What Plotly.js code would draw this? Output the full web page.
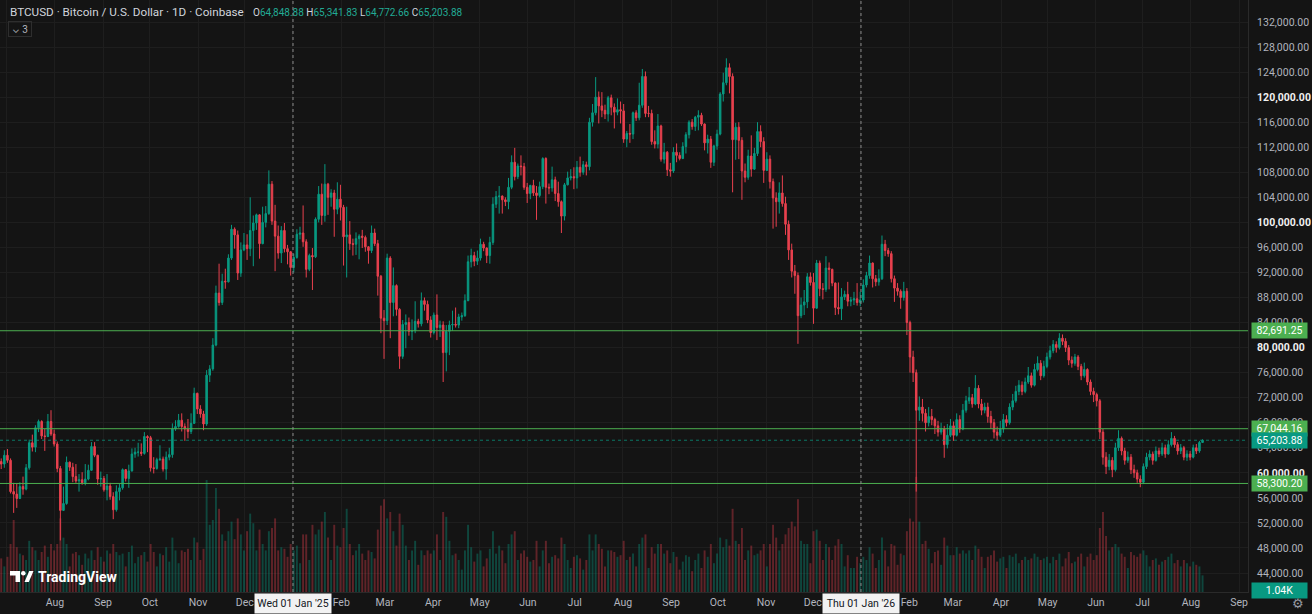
<!DOCTYPE html>
<html><head><meta charset="utf-8">
<script src="https://cdn.plot.ly/plotly-3.0.1.min.js"></script>
<style>html,body{margin:0;padding:0;background:#141414;}#chart{width:1312px;height:614px;}</style>
</head><body><div id="chart"></div>
<script>
// ---- DATA (prices in thousands USD, volume in K) : 2-day candles starting 2024-06-27 ----
const startDate = '2024-06-27';
const firstOpen = 61.8;
const close = [
61.4,62.8,62.0,57.0,56.6,55.9,57.8,57.4,60.8,64.8,
64.1,67.2,68.2,65.9,65.8,68.2,66.2,64.6,60.7,54.0,
55.1,61.7,60.9,59.4,58.7,58.9,58.4,59.0,60.4,64.2,
62.8,59.0,59.1,57.3,57.9,56.2,54.1,57.0,57.6,60.5,
59.1,60.3,63.0,63.3,63.3,63.1,65.8,65.6,60.8,60.7,
62.1,62.2,60.6,62.5,62.9,67.0,67.4,68.4,67.4,67.0,
66.6,67.9,72.7,70.2,69.4,67.8,75.6,76.6,80.4,88.7,
87.2,90.6,90.5,94.3,98.9,98.0,91.9,95.6,96.4,95.8,
98.7,99.9,101.2,96.6,100.0,101.4,106.1,100.2,97.8,95.1,
98.7,95.8,95.3,92.8,
94.4,98.1,98.3,96.9,92.5,94.7,94.5,100.5,104.5,101.1,
106.1,104.0,104.7,102.1,103.7,102.4,97.7,98.0,96.6,96.5,
97.4,97.8,97.6,96.1,95.5,98.3,96.6,91.4,84.7,84.3,
94.3,87.2,89.9,86.1,78.6,83.7,84.0,82.6,82.7,84.2,
83.8,87.5,86.9,84.4,82.4,85.2,83.2,83.6,79.2,82.6,
83.6,83.7,83.6,84.9,85.1,87.5,93.7,94.7,93.8,94.3,
96.5,95.9,94.7,96.8,102.9,104.1,104.2,103.6,103.3,105.6,
109.6,107.3,109.0,108.9,105.6,104.6,105.9,104.7,104.3,105.7,
110.2,105.6,105.5,106.8,104.6,103.3,101.0,106.0,107.1,107.3,
107.1,108.8,108.0,109.2,108.9,116.0,117.5,120.0,118.6,117.9,
117.3,119.9,118.4,117.6,118.0,117.8,113.3,114.2,114.1,117.5,
116.7,118.7,123.3,117.4,117.4,112.9,112.5,115.4,110.1,111.2,
108.4,108.2,111.2,110.7,110.2,112.1,114.0,116.0,115.3,116.8,
117.1,115.7,112.7,113.3,109.6,112.2,114.1,120.5,122.3,124.7,
123.3,113.2,115.2,113.1,108.2,107.2,110.6,108.5,111.0,114.5,
112.9,108.3,110.1,106.5,103.9,103.3,104.7,103.0,99.7,95.6,
92.2,91.5,85.1,86.8,87.3,91.3,90.4,86.3,93.5,89.4,
89.3,92.7,92.5,90.3,86.4,86.2,88.1,88.5,87.4,87.6,
87.8,87.2,87.6,
90.0,91.5,93.5,91.0,90.5,91.0,96.5,95.5,95.0,91.0,
89.5,89.0,88.0,89.0,84.0,78.5,76.0,70.0,70.5,69.5,
68.0,69.0,68.5,67.5,66.5,67.0,64.5,66.0,67.5,66.0,
68.5,67.0,70.0,71.5,72.0,71.0,73.5,71.0,70.0,70.5,
69.0,68.0,66.5,66.0,67.0,68.5,68.0,70.5,71.5,73.0,
74.0,73.0,74.5,75.5,74.0,76.5,77.5,75.5,77.0,78.5,
79.5,80.5,80.0,81.5,81.0,80.0,78.0,77.5,78.5,77.0,
75.5,76.5,74.5,73.0,72.5,71.5,66.5,62.5,61.0,62.0,
60.5,64.0,65.5,63.5,62.0,62.5,60.5,60.0,59.0,58.5,
61.0,62.5,63.0,62.0,63.5,63.0,64.0,63.0,64.5,65.5,
64.5,63.5,64.0,62.5,63.0,62.5,64.0,63.5,64.849,65.204
];
const high = [
62.3,63.6,63.8,62.3,58.4,58.3,58.5,59.4,61.4,65.3,
66.1,67.6,68.5,68.4,67.0,69.4,70.0,66.9,65.0,61.1,
57.8,62.6,61.8,61.6,61.4,59.8,60.1,61.4,61.3,64.9,
64.9,62.9,60.2,59.5,59.8,58.4,56.9,58.0,58.2,60.7,
60.6,61.3,63.9,64.0,64.8,64.7,66.5,66.0,65.9,62.5,
62.4,64.4,62.6,63.4,64.0,67.9,68.4,69.4,69.5,67.9,
68.6,69.5,73.6,72.8,70.8,69.9,76.4,77.2,81.5,89.9,
93.4,91.8,92.6,94.9,99.6,99.2,98.7,96.8,98.3,98.1,
104.0,101.1,101.4,101.3,102.5,102.6,108.3,106.6,102.8,99.5,
99.4,99.9,96.4,95.4,
95.0,98.9,99.3,102.7,97.3,95.0,95.9,100.8,105.8,106.2,
109.3,106.3,105.3,105.2,106.4,106.0,102.8,102.5,100.2,97.4,
98.4,98.1,98.8,97.9,96.2,99.5,99.0,97.2,91.6,86.0,
95.0,94.6,92.8,90.1,86.3,84.4,85.3,84.8,84.5,87.4,
84.6,88.8,88.0,87.5,85.0,85.6,88.5,84.3,84.2,83.6,
84.3,85.9,86.4,85.4,85.6,88.5,94.7,95.8,95.3,95.5,
97.4,96.9,96.0,97.7,104.0,105.0,105.8,104.3,104.0,107.1,
110.7,111.9,109.4,110.7,109.5,106.3,106.0,106.8,105.8,106.5,
110.4,110.4,106.2,108.9,107.3,106.5,103.5,106.3,108.1,108.5,
108.8,109.8,110.5,109.8,109.7,116.7,118.9,123.2,120.9,120.8,
118.8,120.2,120.4,119.0,119.8,119.3,118.9,114.6,115.7,117.7,
117.9,122.3,124.5,124.1,118.6,118.0,114.7,117.3,115.6,112.7,
111.4,109.5,112.0,112.6,111.2,112.8,114.4,116.3,116.5,117.0,
117.9,117.5,115.8,114.0,113.8,112.4,114.8,120.8,123.9,126.2,
125.4,123.8,115.9,116.0,113.6,109.4,111.6,113.9,111.9,116.0,
115.5,113.6,111.2,110.7,107.0,104.8,106.4,107.5,104.1,100.3,
96.6,93.2,92.0,88.0,89.2,91.9,92.0,91.9,94.0,93.9,
90.3,94.6,93.6,92.6,90.4,90.4,89.5,89.1,90.5,88.1,
88.9,90.3,88.9,
90.9,92.1,94.7,93.6,91.6,92.5,97.9,97.2,95.9,95.4,
91.5,90.3,89.3,90.5,89.5,84.3,79.5,76.5,72.2,71.8,
70.2,70.5,70.2,68.8,68.3,68.0,67.5,67.8,68.6,68.2,
69.5,69.2,71.0,72.3,73.7,72.6,75.6,74.0,71.8,71.2,
71.2,69.9,68.6,67.4,68.3,69.4,69.2,71.1,72.6,73.9,
74.8,74.6,75.2,76.9,76.0,77.4,78.6,78.0,77.9,79.2,
80.3,81.2,81.0,82.3,82.1,81.5,80.4,78.6,79.0,78.8,
77.4,77.6,76.7,74.9,73.6,72.8,71.8,67.0,63.3,63.0,
62.5,64.8,66.8,65.8,64.0,63.4,63.0,61.3,60.5,59.6,
61.5,63.2,63.6,63.4,64.2,64.0,64.8,64.5,65.2,66.5,
65.9,64.9,64.6,64.3,63.6,63.5,64.5,64.6,65.1,65.342
];
const low = [
60.6,60.8,61.6,56.7,53.6,54.4,55.8,56.5,57.2,60.5,
63.4,63.3,66.5,65.4,63.5,65.7,65.9,64.2,60.1,49.2,
53.9,54.9,60.3,58.5,58.4,57.0,58.1,58.0,58.8,60.3,
62.5,58.1,57.8,57.0,55.6,55.7,52.6,53.8,55.6,57.3,
58.6,57.6,60.2,62.4,62.6,62.7,62.9,63.3,60.2,59.9,
60.5,61.9,60.2,58.9,62.0,62.4,66.7,67.2,66.6,65.1,
65.5,66.2,67.8,69.4,68.8,66.8,67.5,74.5,76.3,80.2,
86.7,86.8,89.4,90.4,94.0,95.8,90.8,91.3,95.4,94.0,
94.6,93.0,98.8,94.2,96.5,99.2,101.2,99.6,92.2,94.2,
93.5,95.2,93.3,91.5,
92.0,94.2,97.3,96.1,91.2,92.2,89.2,94.3,100.0,99.6,
100.1,101.2,102.5,97.7,101.3,100.3,93.1,91.2,95.6,94.7,
94.8,94.1,95.9,95.3,93.4,95.1,96.2,88.3,82.3,78.2,
83.6,81.5,85.0,85.1,76.6,78.2,79.9,81.9,81.2,82.3,
83.2,83.4,85.9,83.9,81.6,82.1,81.2,81.7,74.5,76.2,
78.8,82.7,83.2,83.1,84.3,84.9,87.4,92.8,93.0,93.2,
93.9,95.4,93.5,93.4,96.4,102.3,101.4,101.4,102.6,102.1,
105.3,106.7,106.9,107.5,105.2,103.1,103.7,104.2,100.4,104.0,
105.3,103.0,104.5,104.9,103.4,102.5,98.3,100.3,105.9,106.7,
105.3,105.4,107.3,107.6,107.5,108.3,115.3,117.1,115.8,116.8,
116.5,116.1,117.1,115.0,117.1,115.8,112.7,112.0,112.7,113.3,
116.2,116.3,118.3,116.8,116.8,112.4,111.8,111.8,109.7,109.4,
107.4,107.3,107.9,109.6,109.9,110.1,111.0,113.4,114.8,114.6,
114.7,115.4,111.5,111.0,108.7,109.0,111.6,113.9,119.3,121.9,
120.6,104.8,110.0,110.1,103.6,106.4,106.8,107.3,108.4,110.6,
112.0,106.3,108.2,105.4,99.0,99.3,101.4,102.5,98.0,94.0,
91.2,88.6,80.6,84.7,85.2,86.3,89.9,83.8,86.2,88.2,
87.7,88.9,89.3,89.8,85.2,85.3,84.4,87.6,86.6,86.6,
86.8,86.7,86.6,
87.2,89.6,91.0,89.6,89.8,89.9,90.8,94.6,94.5,90.4,
87.3,88.3,86.2,87.5,82.0,76.0,74.5,57.0,68.3,68.2,
66.6,67.4,67.6,66.2,65.8,66.1,62.4,63.9,65.7,65.1,
65.8,66.4,66.8,69.6,71.0,70.4,70.8,70.3,69.2,69.5,
68.0,67.0,65.5,65.2,65.7,66.4,67.4,67.7,70.0,71.2,
72.4,72.4,72.7,74.2,73.6,73.8,76.2,74.8,75.2,76.7,
78.1,79.1,79.2,79.7,80.4,79.3,77.2,76.8,77.1,76.4,
74.8,75.2,74.0,72.4,71.3,70.6,65.4,61.3,59.8,60.4,
59.3,60.2,63.5,62.8,61.3,61.6,59.8,59.2,58.4,57.7,
58.2,60.6,62.0,61.3,61.8,62.5,62.7,62.4,62.9,64.2,
64.0,62.9,63.0,62.0,61.9,62.0,62.3,63.0,63.2,64.773
];
const volume = [
2.1,1.6,2.2,3.0,4.5,2.8,2.4,2.3,2.0,3.2,
2.8,2.6,2.0,2.5,2.9,2.2,3.0,2.6,3.0,4.6,
3.4,3.0,1.6,2.4,2.5,2.3,1.7,2.4,2.1,2.6,
2.0,2.8,2.2,1.9,2.6,2.4,3.0,2.5,2.3,2.4,
1.6,2.5,2.9,1.8,2.2,2.3,2.5,1.9,3.0,2.5,
1.6,2.4,2.3,2.8,1.9,3.4,2.6,1.8,2.6,2.5,
2.7,2.0,3.4,3.1,2.0,2.7,7.0,4.2,4.5,6.5,
5.2,3.6,3.2,3.8,4.4,3.3,4.6,3.6,2.6,3.8,
4.9,4.3,2.6,3.9,3.0,2.6,3.8,4.0,4.6,2.6,
2.8,2.7,2.2,3.0,
2.6,2.9,1.8,3.6,3.6,2.0,4.2,3.6,3.9,4.4,
5.0,3.4,2.0,4.2,2.9,2.8,4.0,5.2,3.0,2.3,
2.6,3.0,2.4,2.0,2.6,2.5,2.1,3.9,5.4,5.8,
4.6,5.0,3.8,2.9,4.9,4.2,2.9,2.0,2.6,3.2,
1.7,2.6,2.3,2.6,2.4,2.6,3.6,2.0,5.0,4.7,
3.2,2.3,2.4,2.0,1.4,2.6,4.2,2.8,1.9,2.4,
2.6,1.6,2.1,2.7,3.8,2.4,2.9,2.6,1.8,3.0,
3.6,3.8,2.0,2.4,2.6,2.2,1.9,2.0,3.2,1.6,
2.6,3.2,1.8,2.2,2.3,2.1,3.4,3.0,2.0,1.5,
2.2,2.3,2.1,1.4,2.0,3.6,2.6,3.6,3.0,2.7,
1.6,2.6,2.6,2.5,2.2,2.3,3.2,2.0,2.2,2.4,
1.6,3.0,3.4,3.6,1.5,2.8,2.4,3.0,3.0,2.4,
2.6,1.8,2.5,2.2,1.4,1.9,2.3,2.2,1.3,2.0,
2.4,1.5,2.6,2.2,3.0,1.8,2.4,3.4,2.8,3.3,
2.9,5.2,3.2,3.0,4.0,2.0,2.6,2.9,2.3,2.4,
2.6,3.0,1.6,3.0,4.2,3.4,2.6,3.0,3.6,4.0,
4.4,4.1,5.8,3.2,3.0,3.0,1.8,3.8,3.9,3.2,
2.0,3.0,2.8,2.0,2.9,3.3,3.0,1.6,2.3,1.5,
1.5,2.2,1.8,
2.2,2.0,2.8,2.4,1.5,2.0,3.4,2.6,1.6,3.0,
2.9,1.7,2.4,2.3,3.8,4.6,4.4,7.2,4.4,3.0,
3.2,2.7,1.8,2.5,2.6,1.7,3.4,2.9,2.3,2.3,
2.8,2.4,2.6,2.4,2.6,2.0,2.9,2.7,2.2,1.5,
2.2,2.3,2.6,1.9,2.1,2.2,1.5,2.3,2.2,2.4,
1.8,2.0,2.2,2.0,2.1,2.4,2.2,2.0,2.1,2.2,
1.8,2.2,2.0,2.4,1.6,2.1,2.5,1.8,1.9,2.2,
2.4,1.6,2.2,2.4,2.0,2.3,4.0,5.0,3.5,2.6,
2.8,3.0,2.8,2.4,2.2,1.5,2.5,2.3,2.2,2.4,
2.6,2.3,1.6,2.0,2.1,1.7,1.9,2.0,2.2,2.4,
1.8,2.0,1.6,2.0,1.8,1.6,1.9,1.7,1.6,1.04
];
const levels = [82691.25, 67044.16, 58300.20];
const lastPrice = 65203.88;
const lastVolumeText = '1.04K';
const headerTitle = 'BTCUSD · Bitcoin / U.S. Dollar · 1D · Coinbase';
const ohlcLabels = ['O','H','L','C'];
const ohlcValues = ['64,848.88','65,341.83','64,772.66','65,203.88'];
const priceTicks = [44000,48000,52000,56000,60000,64000,68000,72000,76000,80000,84000,88000,92000,96000,100000,104000,108000,112000,116000,120000,124000,128000,132000];
const monthTicks = ['2024-07-01','2024-08-01','2024-09-01','2024-10-01','2024-11-01','2024-12-01','2025-01-01','2025-02-01','2025-03-01','2025-04-01','2025-05-01','2025-06-01','2025-07-01','2025-08-01','2025-09-01','2025-10-01','2025-11-01','2025-12-01','2026-01-01','2026-02-01','2026-03-01','2026-04-01','2026-05-01','2026-06-01','2026-07-01','2026-08-01','2026-09-01'];
const monthLabels = ['Jul','Aug','Sep','Oct','Nov','Dec','','Feb','Mar','Apr','May','Jun','Jul','Aug','Sep','Oct','Nov','Dec','','Feb','Mar','Apr','May','Jun','Jul','Aug','Sep'];
const yearMarks = ['2025-01-01','2026-01-01'];
const yearMarkLabels = ["Wed 01 Jan '25", "Thu 01 Jan '26"];

// ---- BUILD ----
const UP = '#089981', DOWN = '#e8404e';
const DAY = 86400000;
const t0 = Date.parse(startDate + 'T00:00:00Z');
const dates = close.map((_, i) => new Date(t0 + i * 2 * DAY + 12 * 3600000).toISOString().slice(0, 19).replace('T', ' '));
const open = close.map((_, i) => i === 0 ? firstOpen : close[i - 1]);
const K = v => v * 1000;
const fmt = v => v.toLocaleString('en-US', {minimumFractionDigits: 2, maximumFractionDigits: 2});
const volColors = close.map((c, i) => c >= open[i] ? 'rgba(8,153,129,0.38)' : 'rgba(232,64,78,0.36)');

const traces = [
  {type: 'bar', x: dates, y: volume, yaxis: 'y', marker: {color: volColors, line: {width: 0}},
   width: 2 * DAY * 0.62, hoverinfo: 'skip'},
  {type: 'candlestick', x: dates, open: open.map(K), high: high.map(K), low: low.map(K), close: close.map(K),
   xaxis: 'x', yaxis: 'y2', whiskerwidth: 0,
   increasing: {line: {color: UP, width: 1}, fillcolor: UP},
   decreasing: {line: {color: DOWN, width: 1}, fillcolor: DOWN}, hoverinfo: 'skip'}
];

const PW = 1248, PH = 592;
const px = x => x / PW, py = y => 1 - y / PH;

const shapes = [];
levels.forEach(l => shapes.push({type: 'line', xref: 'paper', x0: 0, x1: 1, yref: 'y2', y0: l, y1: l, line: {color: '#4caf50', width: 1}}));
shapes.push({type: 'line', xref: 'paper', x0: 0, x1: 1, yref: 'y2', y0: lastPrice, y1: lastPrice, line: {color: 'rgba(8,153,129,0.75)', width: 1, dash: 'dot'}});
yearMarks.forEach(d => shapes.push({type: 'line', xref: 'x', x0: d, x1: d, yref: 'paper', y0: 0, y1: 1, line: {color: '#8c8c8c', width: 1, dash: 'dot'}}));
// TradingView logo
shapes.push({type: 'path', xref: 'paper', yref: 'paper', fillcolor: '#ffffff', line: {width: 0},
  path: `M ${px(10)} ${py(571)} L ${px(20)} ${py(571)} L ${px(20)} ${py(582)} L ${px(15.5)} ${py(582)} L ${px(15.5)} ${py(575.5)} L ${px(10)} ${py(575.5)} Z`});
shapes.push({type: 'circle', xref: 'paper', yref: 'paper', x0: px(21), x1: px(25.6), y0: py(575.6), y1: py(571), fillcolor: '#ffffff', line: {width: 0}});
shapes.push({type: 'path', xref: 'paper', yref: 'paper', fillcolor: '#ffffff', line: {width: 0},
  path: `M ${px(24.5)} ${py(582)} L ${px(28.8)} ${py(582)} L ${px(33.5)} ${py(571)} L ${px(29.2)} ${py(571)} Z`});

const annotations = [];
annotations.push({xref: 'paper', yref: 'paper', x: px(8), y: py(12), xanchor: 'left', yanchor: 'middle', showarrow: false,
  text: headerTitle, font: {size: 11.7, color: '#d1d4dc', family: 'Roboto, Inter, sans-serif'}});
annotations.push({xref: 'paper', yref: 'paper', x: px(251), y: py(12), xanchor: 'left', yanchor: 'middle', showarrow: false,
  text: ohlcLabels.map((l, i) => `${l}<span style="color:#22ab94">${ohlcValues[i]}</span>`).join(' '),
  font: {size: 10, color: '#d1d4dc', family: 'Roboto, Inter, sans-serif'}});
annotations.push({xref: 'paper', yref: 'paper', x: px(8), y: py(29.5), xanchor: 'left', yanchor: 'middle', showarrow: false,
  text: '⌄ 3', font: {size: 10, color: '#b2b5be'}, bordercolor: '#2e2e2e', borderwidth: 1, borderpad: 1, width: 20, height: 12});
annotations.push({xref: 'paper', yref: 'paper', x: px(36), y: py(577), xanchor: 'left', yanchor: 'middle', showarrow: false,
  text: '<b>TradingView</b>', font: {size: 14, color: '#ffffff', family: 'Roboto, Inter, sans-serif'}});
const box = (y, yref, text, bg) => ({xref: 'paper', x: 1, xanchor: 'left', xshift: 3, yref: yref, y: y, yanchor: 'middle',
  showarrow: false, text: text, bgcolor: bg, font: {size: 10.5, color: '#ffffff', family: 'Roboto, Inter, sans-serif'},
  width: 53, height: 13, borderpad: 1});
levels.forEach(l => annotations.push(box(l, 'y2', fmt(l), '#4caf50')));
annotations.push(box(lastPrice, 'y2', fmt(lastPrice), '#089981'));
annotations.push(box(py(590), 'paper', lastVolumeText, '#089981'));
yearMarks.forEach((d, i) => annotations.push({xref: 'x', x: d, yref: 'paper', y: 0, yanchor: 'top', yshift: -1, showarrow: false,
  text: yearMarkLabels[i], bgcolor: '#f2f2f2', font: {size: 10.5, color: '#131722', family: 'Roboto, Inter, sans-serif'},
  width: 74, height: 17}));
annotations.push({xref: 'paper', yref: 'paper', x: px(1298), y: py(603), xanchor: 'center', yanchor: 'middle', showarrow: false,
  text: '⚙', font: {size: 13, color: '#9598a1'}});

const priceText = priceTicks.map(v => v % 20000 === 0 ? `<span style="color:#f0f0f0"><b>${fmt(v)}</b></span>` : fmt(v));

const layout = {
  width: 1312, height: 614,
  paper_bgcolor: '#141414', plot_bgcolor: '#141414',
  margin: {l: 0, r: 64, t: 0, b: 22},
  showlegend: false,
  font: {family: 'Roboto, Inter, sans-serif', color: '#b2b5be', size: 10.5},
  xaxis: {type: 'date', range: ['2024-06-26 17:16', '2026-09-06 17:00'], rangeslider: {visible: false},
    tickmode: 'array', tickvals: monthTicks, ticktext: monthLabels, showgrid: true, gridcolor: '#1e1e1e',
    ticks: '', zeroline: false, showline: true, linecolor: '#2a2a2a', tickfont: {size: 10.5, color: '#b2b5be'}, fixedrange: true},
  yaxis: {range: [0, 37], visible: false, showgrid: false, fixedrange: true},
  yaxis2: {overlaying: 'y', side: 'right', range: [40966, 135514], tickmode: 'array', tickvals: priceTicks, ticktext: priceText,
    showgrid: true, gridcolor: '#1e1e1e', zeroline: false, ticks: '', ticklabelstandoff: 6, showline: true, linecolor: '#2a2a2a',
    tickfont: {size: 10.5, color: '#b2b5be'}, fixedrange: true},
  shapes: shapes,
  annotations: annotations
};

Plotly.newPlot('chart', traces, layout, {staticPlot: true, displayModeBar: false});
</script>
</body></html>
